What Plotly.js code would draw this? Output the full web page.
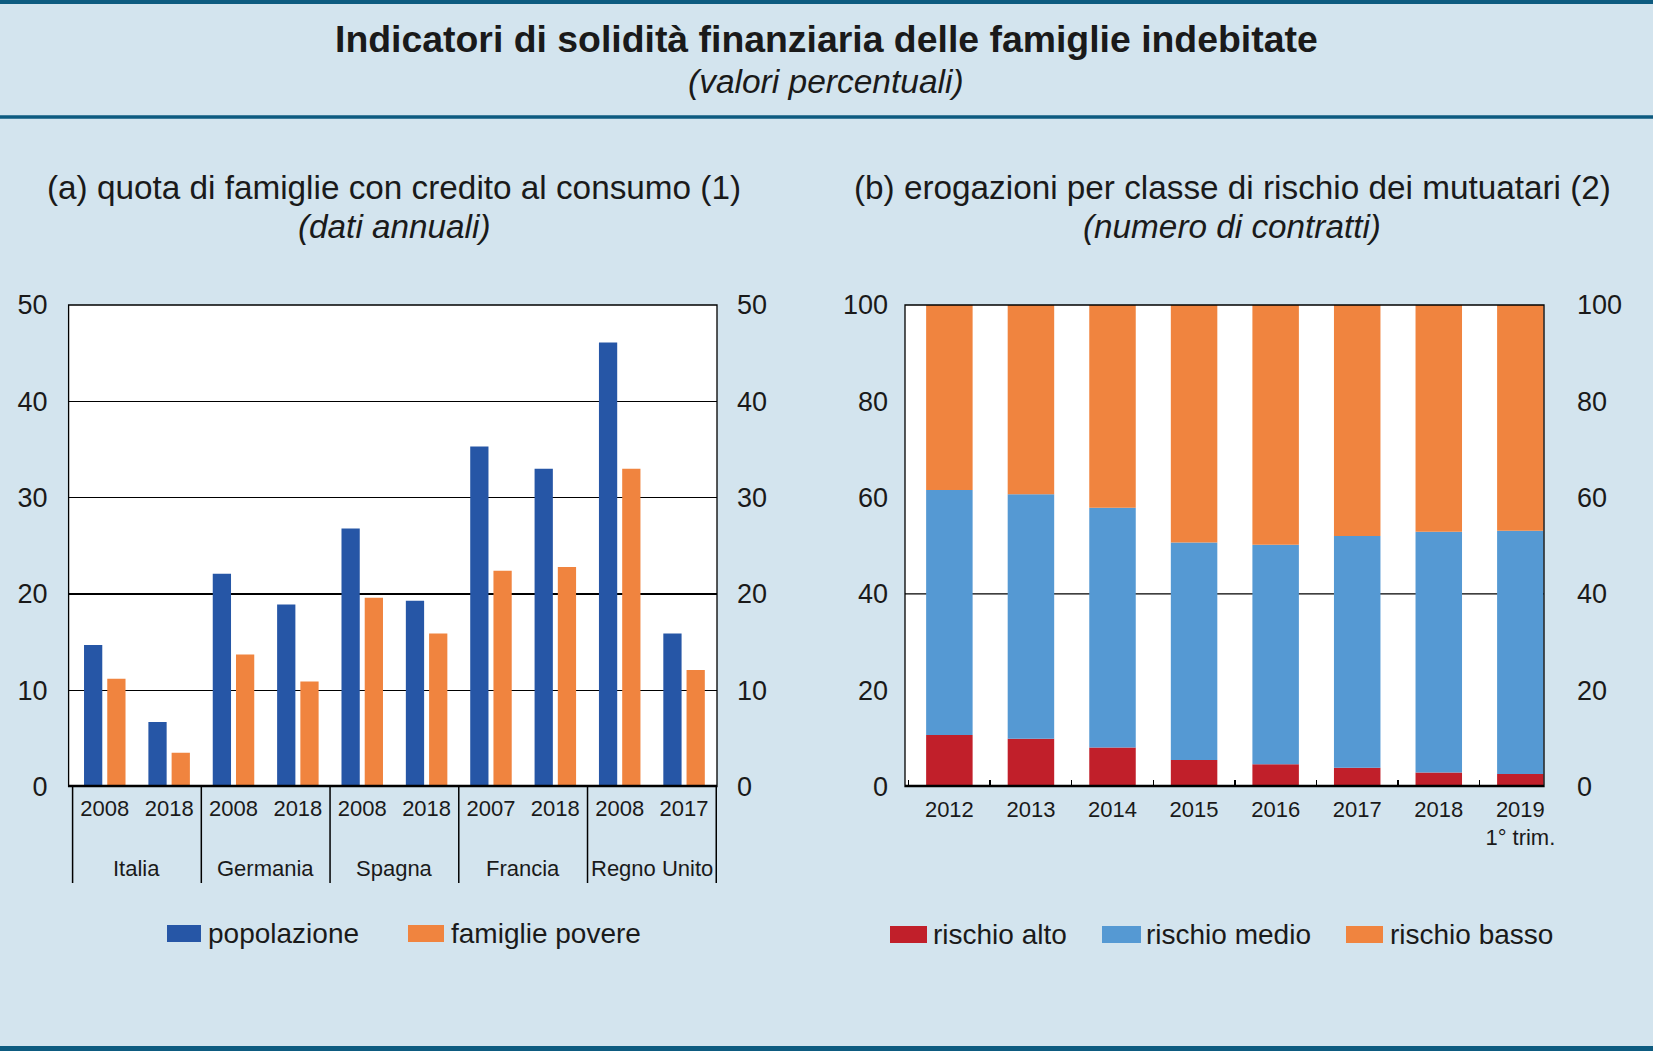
<!DOCTYPE html>
<html>
<head>
<meta charset="utf-8">
<script src="https://cdn.plot.ly/plotly-3.0.1.min.js"></script>
<style>html,body{margin:0;padding:0;background:#D3E4EE;}#chart{width:1653px;height:1051px;}</style>
</head>
<body>
<div id="chart"></div>
<script>
// ---- Data: panel (a) ----
const countries = ['Italia','Italia','Germania','Germania','Spagna','Spagna','Francia','Francia','Regno Unito','Regno Unito'];
const yearsA = ['2008','2018','2008','2018','2008','2018','2007','2018','2008','2017'];
const groupNames = ['Italia','Germania','Spagna','Francia','Regno Unito'];
const popolazione = [14.7, 6.7, 22.1, 18.9, 26.8, 19.3, 35.3, 33.0, 46.1, 15.9];
const famigliePovere = [11.2, 3.5, 13.7, 10.9, 19.6, 15.9, 22.4, 22.8, 33.0, 12.1];
const seriesNamesA = ['popolazione','famiglie povere'];

// ---- Data: panel (b) ----
const yearsB = ['2012','2013','2014','2015','2016','2017','2018','2019'];
const yearLabelsB = ['2012','2013','2014','2015','2016','2017','2018','2019<br>1° trim.'];
const rischioAlto = [10.7, 9.9, 8.1, 5.5, 4.6, 3.9, 2.9, 2.6];
const rischioMedio = [50.9, 50.8, 49.8, 45.2, 45.6, 48.1, 50.0, 50.5];
const rischioBasso = [38.4, 39.3, 42.1, 49.3, 49.8, 48.0, 47.1, 46.9];
const seriesNamesB = ['rischio alto','rischio medio','rischio basso'];

const ticksA = [0,10,20,30,40,50];
const ticksB = [0,20,40,60,80,100];

// ---- Styles ----
const FONT = 'Liberation Sans, Arial, Helvetica, sans-serif';
const BG = '#D3E4EE';
const C_BLUE = '#2656A6', C_ORANGE = '#F0843F', C_RED = '#C11F2A', C_MID = '#5599D3';
const C_BORDER = '#0D5B80';
const TXT = '#1a1a1a';

const keysA = countries.map((c,i)=>c+'|'+yearsA[i]);
const baseMedio = rischioAlto.slice();
const baseBasso = rischioAlto.map((v,i)=>v+rischioMedio[i]);

const traces = [
  {type:'bar', x:keysA, y:popolazione, name:seriesNamesA[0], marker:{color:C_BLUE}, xaxis:'x', yaxis:'y', showlegend:false, hoverinfo:'y'},
  {type:'bar', x:keysA, y:famigliePovere, name:seriesNamesA[1], marker:{color:C_ORANGE}, xaxis:'x', yaxis:'y', showlegend:false, hoverinfo:'y'},
  {type:'scatter', mode:'markers', x:[keysA[0]], y:[null], xaxis:'x', yaxis:'y3', showlegend:false, hoverinfo:'skip'},
  {type:'bar', x:yearsB, y:rischioAlto, name:seriesNamesB[0], marker:{color:C_RED}, xaxis:'x2', yaxis:'y2', offsetgroup:'b', width:0.57, showlegend:false},
  {type:'bar', x:yearsB, y:rischioMedio, base:baseMedio, name:seriesNamesB[1], marker:{color:C_MID}, xaxis:'x2', yaxis:'y2', offsetgroup:'b', width:0.57, showlegend:false},
  {type:'bar', x:yearsB, y:rischioBasso, base:baseBasso, name:seriesNamesB[2], marker:{color:C_ORANGE}, xaxis:'x2', yaxis:'y2', offsetgroup:'b', width:0.57, showlegend:false},
  {type:'scatter', mode:'markers', x:[yearsB[0]], y:[null], xaxis:'x2', yaxis:'y4', showlegend:false, hoverinfo:'skip'}
];

const W = 1653, H = 1051;
const px = v => v / W;
const py = v => 1 - v / H;

const domXA = [px(68.6), px(717)];
const domXB = [px(905), px(1544)];
const domY = [py(786.5), py(305)];

const tickFont = {family:FONT, size:27, color:TXT};
const catFont = {family:FONT, size:22, color:TXT};

const layout = {
  width:W, height:H,
  margin:{l:0,r:0,t:0,b:0},
  paper_bgcolor:BG, plot_bgcolor:'#FFFFFF',
  barmode:'group', bargap:0.278, bargroupgap:0.214,
  showlegend:false,
  font:{family:FONT, color:TXT},
  xaxis:{domain:domXA, anchor:'y', type:'category', tickvals:keysA, ticktext:yearsA,
         ticks:'', showgrid:false, showline:false, zeroline:false, tickfont:catFont, ticklabelstandoff:6, fixedrange:true},
  yaxis:{domain:domY, anchor:'x', range:[0,50], tickvals:ticksA, ticks:'', showgrid:true, gridcolor:'#000000', gridwidth:1.2,
         zeroline:false, showline:false, tickfont:tickFont, ticklabelstandoff:20, fixedrange:true},
  yaxis3:{overlaying:'y', side:'right', anchor:'x', range:[0,50], tickvals:ticksA, ticks:'', showgrid:false,
          zeroline:false, showline:false, tickfont:tickFont, ticklabelstandoff:19, fixedrange:true},
  xaxis2:{domain:domXB, anchor:'y2', type:'category', range:[-0.544, 7.29], tickvals:yearsB, ticktext:yearLabelsB,
          ticks:'inside', tickson:'boundaries', ticklen:7, tickwidth:1.5, tickcolor:'#000000',
          showgrid:false, showline:false, zeroline:false, tickfont:catFont, ticklabelstandoff:7, fixedrange:true},
  yaxis2:{domain:domY, anchor:'x2', range:[0,100], tickvals:ticksB, ticks:'', showgrid:false,
          zeroline:false, showline:false, tickfont:tickFont, ticklabelstandoff:16, fixedrange:true},
  yaxis4:{overlaying:'y2', side:'right', anchor:'x2', range:[0,100], tickvals:ticksB, ticks:'', showgrid:false,
          zeroline:false, showline:false, tickfont:tickFont, ticklabelstandoff:32, fixedrange:true},
  shapes:[], annotations:[]
};

const S = layout.shapes, A = layout.annotations;
// header/footer lines
S.push({type:'line', xref:'paper', yref:'paper', x0:0, x1:1, y0:py(2), y1:py(2), line:{color:C_BORDER, width:4}});
S.push({type:'line', xref:'paper', yref:'paper', x0:0, x1:1, y0:py(117), y1:py(117), line:{color:C_BORDER, width:3.5}});
S.push({type:'line', xref:'paper', yref:'paper', x0:0, x1:1, y0:py(1048.5), y1:py(1048.5), line:{color:C_BORDER, width:5}});

// frames
S.push({type:'rect', xref:'x domain', yref:'y domain', x0:0, x1:1, y0:0, y1:1, line:{color:'#000', width:1.3}});
S.push({type:'line', xref:'x domain', yref:'y', x0:0, x1:1, y0:0, y1:0, line:{color:'#000', width:3.5}});
S.push({type:'rect', xref:'x2 domain', yref:'y2 domain', x0:0, x1:1, y0:0, y1:1, line:{color:'#000', width:1.3}});
S.push({type:'line', xref:'x2 domain', yref:'y2', x0:0, x1:1, y0:0, y1:0, line:{color:'#000', width:3.5}});
S.push({type:'line', xref:'x2 domain', yref:'y2', x0:0, x1:1, y0:40, y1:40, layer:'below', line:{color:'#000', width:1.2}});

// group dividers and group labels (panel a)
let start = 0;
groupNames.forEach((g, gi) => {
  const n = countries.filter(c => c === g).length;
  const b0 = start - 0.5;
  S.push({type:'line', xref:'x', yref:'paper', x0:b0, x1:b0, y0:py(786.5), y1:py(883), line:{color:'#000', width:1.5}});
  A.push({xref:'x', yref:'paper', x:start + (n-1)/2, y:py(868), text:g, showarrow:false, font:catFont, xanchor:'center', yanchor:'middle'});
  start += n;
});
S.push({type:'line', xref:'x', yref:'paper', x0:start-0.5, x1:start-0.5, y0:py(786.5), y1:py(883), line:{color:'#000', width:1.5}});

// titles
A.push({xref:'paper', yref:'paper', x:px(826), y:py(39), text:'<b>Indicatori di solidità finanziaria delle famiglie indebitate</b>', showarrow:false, font:{family:FONT, size:37.4, color:TXT}, xanchor:'center', yanchor:'middle'});
A.push({xref:'paper', yref:'paper', x:px(826), y:py(82), text:'<i>(valori percentuali)</i>', showarrow:false, font:{family:FONT, size:33.5, color:TXT}, xanchor:'center', yanchor:'middle'});
const subFont = {family:FONT, size:33.3, color:TXT};
const splitY = 207;
A.push({xref:'paper', yref:'paper', x:px(394), y:py(splitY), text:'(a) quota di famiglie con credito al consumo (1)', showarrow:false, font:subFont, xanchor:'center', yanchor:'bottom', borderpad:0});
A.push({xref:'paper', yref:'paper', x:px(394), y:py(splitY), text:'<i>(dati annuali)</i>', showarrow:false, font:subFont, xanchor:'center', yanchor:'top', borderpad:0});
A.push({xref:'paper', yref:'paper', x:px(1232), y:py(splitY), text:'(b) erogazioni per classe di rischio dei mutuatari (2)', showarrow:false, font:subFont, xanchor:'center', yanchor:'bottom', borderpad:0});
A.push({xref:'paper', yref:'paper', x:px(1232), y:py(splitY), text:'<i>(numero di contratti)</i>', showarrow:false, font:subFont, xanchor:'center', yanchor:'top', borderpad:0});

// manual legends
const legFont = {family:FONT, size:28, color:TXT};
function legendItem(x0, x1, textX, yTop, yBot, color, label){
  S.push({type:'rect', xref:'paper', yref:'paper', x0:px(x0), x1:px(x1), y0:py(yBot), y1:py(yTop), fillcolor:color, line:{width:0}});
  A.push({xref:'paper', yref:'paper', x:px(textX), y:py((yTop+yBot)/2), text:label, showarrow:false, font:legFont, xanchor:'left', yanchor:'middle'});
}
legendItem(167, 201, 206, 925, 942, C_BLUE, seriesNamesA[0]);
legendItem(408, 444, 449, 925, 942, C_ORANGE, seriesNamesA[1]);
legendItem(890, 927, 931, 926, 943, C_RED, seriesNamesB[0]);
legendItem(1102, 1141, 1144, 926, 943, C_MID, seriesNamesB[1]);
legendItem(1346, 1383, 1388, 926, 943, C_ORANGE, seriesNamesB[2]);

Plotly.newPlot('chart', traces, layout, {displayModeBar:false, staticPlot:true});
</script>
</body>
</html>
